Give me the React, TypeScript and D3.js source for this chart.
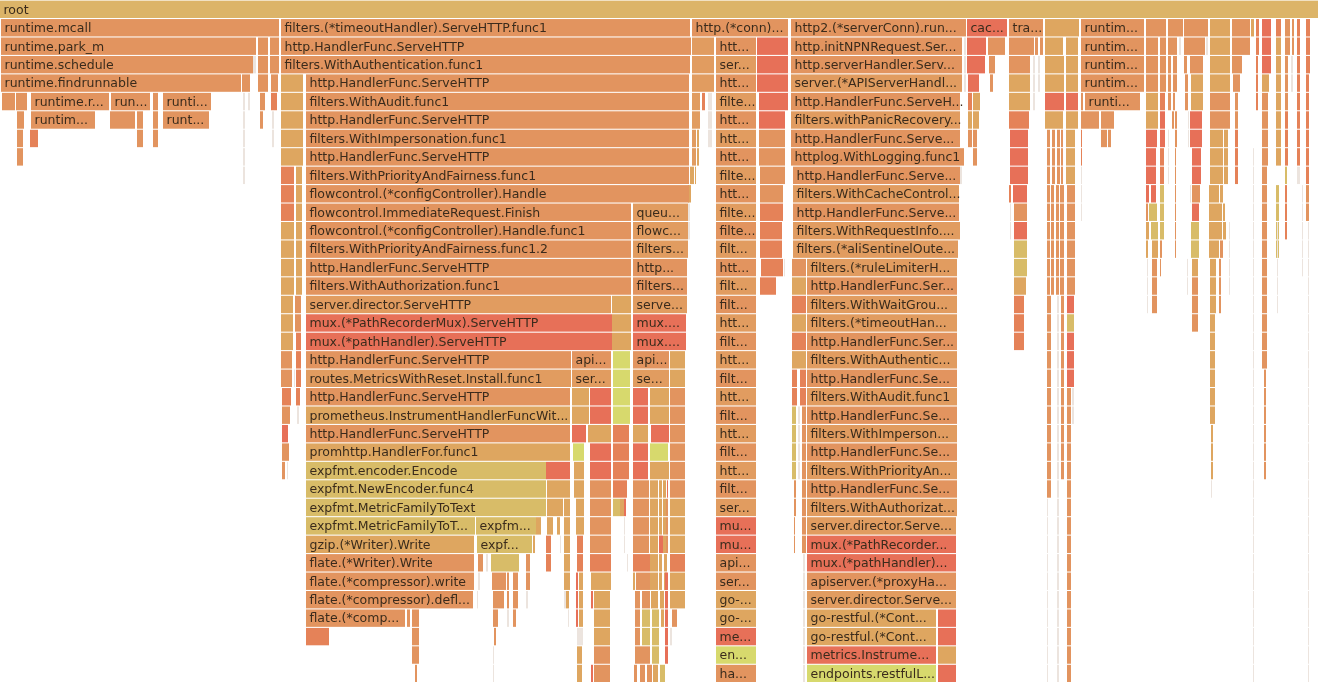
import React from "react";
import * as d3 from "d3";

type Label = [number, number, number, string, string];
type Run = [number, number, number, number, string];

const palette: Record<string, string> = {
  R: "#dcb467", o: "#e2945f", m: "#e19c60", t: "#dea661", s: "#e58259", r: "#e77059",
  y: "#d8bc68", g: "#d7d96d", p: "#ece4de",
};
const rowCount = 37;
const sampleTotal = 1318;

const labelledLeft: Label[] = [
  [0, 0, 1318, "R", "root"],
  [1, 1, 279, "o", "runtime.mcall"],
  [2, 1, 256, "o", "runtime.park_m"],
  [3, 1, 253, "o", "runtime.schedule"],
  [4, 1, 241, "o", "runtime.findrunnable"],
  [5, 31, 109, "o", "runtime.r..."],
  [5, 111, 150, "o", "run..."],
  [5, 163, 211, "o", "runti..."],
  [6, 31, 95, "o", "runtim..."],
  [6, 163, 209, "o", "runt..."],
];
const labelledTimeout: Label[] = [
  [1, 281, 690, "o", "filters.(*timeoutHandler).ServeHTTP.func1"],
  [2, 281, 691, "o", "http.HandlerFunc.ServeHTTP"],
  [3, 281, 690, "o", "filters.WithAuthentication.func1"],
  [4, 306, 689, "o", "http.HandlerFunc.ServeHTTP"],
  [5, 306, 689, "o", "filters.WithAudit.func1"],
  [6, 306, 689, "o", "http.HandlerFunc.ServeHTTP"],
  [7, 306, 689, "o", "filters.WithImpersonation.func1"],
  [8, 306, 689, "o", "http.HandlerFunc.ServeHTTP"],
  [9, 306, 689, "o", "filters.WithPriorityAndFairness.func1"],
  [10, 306, 689, "o", "flowcontrol.(*configController).Handle"],
  [11, 306, 631, "o", "flowcontrol.ImmediateRequest.Finish"],
  [11, 633, 688, "m", "queu..."],
  [12, 306, 631, "o", "flowcontrol.(*configController).Handle.func1"],
  [12, 633, 688, "m", "flowc..."],
  [13, 306, 631, "o", "filters.WithPriorityAndFairness.func1.2"],
  [13, 633, 688, "m", "filters..."],
  [14, 306, 631, "o", "http.HandlerFunc.ServeHTTP"],
  [14, 633, 687, "o", "http..."],
  [15, 306, 631, "o", "filters.WithAuthorization.func1"],
  [15, 633, 687, "o", "filters..."],
  [16, 306, 611, "m", "server.director.ServeHTTP"],
  [16, 633, 687, "m", "serve..."],
  [17, 306, 612, "r", "mux.(*PathRecorderMux).ServeHTTP"],
  [17, 633, 686, "r", "mux...."],
  [18, 306, 612, "r", "mux.(*pathHandler).ServeHTTP"],
  [18, 633, 686, "r", "mux...."],
  [19, 306, 571, "o", "http.HandlerFunc.ServeHTTP"],
  [19, 572, 611, "o", "api..."],
  [19, 633, 669, "o", "api..."],
  [20, 306, 571, "m", "routes.MetricsWithReset.Install.func1"],
  [20, 572, 611, "m", "ser..."],
  [20, 633, 669, "m", "se..."],
  [21, 306, 570, "o", "http.HandlerFunc.ServeHTTP"],
  [22, 306, 570, "t", "prometheus.InstrumentHandlerFuncWit..."],
  [23, 306, 570, "o", "http.HandlerFunc.ServeHTTP"],
  [24, 306, 570, "t", "promhttp.HandlerFor.func1"],
  [25, 306, 546, "y", "expfmt.encoder.Encode"],
  [26, 306, 546, "y", "expfmt.NewEncoder.func4"],
  [27, 306, 546, "y", "expfmt.MetricFamilyToText"],
  [28, 306, 475, "y", "expfmt.MetricFamilyToT..."],
  [28, 476, 536, "y", "expfm..."],
  [29, 306, 474, "t", "gzip.(*Writer).Write"],
  [29, 477, 532, "y", "expf..."],
  [30, 306, 474, "o", "flate.(*Writer).Write"],
  [31, 306, 474, "o", "flate.(*compressor).write"],
  [32, 306, 473, "o", "flate.(*compressor).defl..."],
  [33, 306, 405, "o", "flate.(*comp..."],
];
const conn1Names = ["htt...", "ser...", "htt...", "filte...", "htt...", "htt...", "htt...", "filte...", "htt...", "filte...", "filte...", "filt...", "htt...", "filt...", "filt...", "htt...", "filt...", "htt...", "filt...", "htt...", "filt...", "htt...", "filt...", "htt...", "filt...", "ser...", "mu...", "mu...", "api...", "ser...", "go-...", "go-...", "me...", "en...", "ha..."];
const conn1Colours = "omomomomomomomomomomomomom" + "rroottrgo";
const labelledConn: Label[] = [
  [1, 692, 788, "o", "http.(*conn)..."],
  [1, 791, 966, "o", "http2.(*serverConn).run..."],
  [2, 791, 962, "o", "http.initNPNRequest.Ser..."],
  [3, 791, 962, "o", "http.serverHandler.Serv..."],
  [4, 791, 962, "m", "server.(*APIServerHandl..."],
  [5, 791, 960, "o", "http.HandlerFunc.ServeH..."],
  [6, 791, 960, "m", "filters.withPanicRecovery..."],
  [7, 791, 960, "o", "http.HandlerFunc.Serve..."],
  [8, 791, 960, "o", "httplog.WithLogging.func1"],
  [9, 793, 960, "o", "http.HandlerFunc.Serve..."],
  [10, 793, 959, "m", "filters.WithCacheControl..."],
  [11, 793, 959, "o", "http.HandlerFunc.Serve..."],
  [12, 793, 960, "m", "filters.WithRequestInfo...."],
  [13, 793, 958, "m", "filters.(*aliSentinelOute..."],
  [14, 807, 957, "m", "filters.(*ruleLimiterH..."],
  [15, 807, 957, "o", "http.HandlerFunc.Ser..."],
  [16, 807, 957, "m", "filters.WithWaitGrou..."],
  [17, 807, 957, "m", "filters.(*timeoutHan..."],
  [18, 807, 957, "o", "http.HandlerFunc.Ser..."],
  [19, 807, 957, "m", "filters.WithAuthentic..."],
  [20, 807, 957, "o", "http.HandlerFunc.Se..."],
  [21, 807, 957, "m", "filters.WithAudit.func1"],
  [22, 807, 957, "o", "http.HandlerFunc.Se..."],
  [23, 807, 957, "m", "filters.WithImperson..."],
  [24, 807, 957, "o", "http.HandlerFunc.Se..."],
  [25, 807, 957, "m", "filters.WithPriorityAn..."],
  [26, 807, 957, "o", "http.HandlerFunc.Se..."],
  [27, 807, 957, "m", "filters.WithAuthorizat..."],
  [28, 807, 956, "m", "server.director.Serve..."],
  [29, 807, 956, "r", "mux.(*PathRecorder..."],
  [30, 807, 956, "r", "mux.(*pathHandler)..."],
  [31, 807, 956, "o", "apiserver.(*proxyHa..."],
  [32, 807, 956, "m", "server.director.Serve..."],
  [33, 807, 936, "t", "go-restful.(*Cont..."],
  [34, 807, 936, "t", "go-restful.(*Cont..."],
  [35, 807, 936, "r", "metrics.Instrume..."],
  [36, 807, 936, "g", "endpoints.restfulL..."],
];
const labelledRight: Label[] = [
  [1, 967, 1007, "r", "cac..."],
  [1, 1009, 1043, "o", "tra..."],
  [1, 1081, 1144, "o", "runtim..."],
  [2, 1081, 1144, "o", "runtim..."],
  [3, 1081, 1144, "o", "runtim..."],
  [4, 1081, 1144, "o", "runtim..."],
  [5, 1085, 1140, "o", "runti..."],
];

const runsLeft: Run[] = [
  [2, 4, 258, 268, "o"], [2, 3, 270, 279, "o"], [4, 4, 271, 278, "o"], [3, 3, 253, 256, "p"],
  [4, 4, 242, 250, "o"], [5, 5, 2, 15, "o"], [5, 5, 16, 27, "o"], [5, 7, 153, 158, "o"],
  [5, 9, 243, 245, "p"], [5, 5, 248, 250, "p"], [5, 5, 260, 265, "o"], [5, 5, 271, 277, "s"],
  [6, 6, 17, 24, "o"], [7, 8, 17, 23, "o"], [6, 6, 110, 135, "o"], [6, 7, 137, 143, "o"],
  [6, 6, 260, 263, "o"], [6, 7, 272, 274, "p"], [7, 7, 30, 38, "s"],
];
const runsTimeoutEdge: Run[] = [
  [4, 8, 281, 303, "t"], [9, 11, 281, 294, "s"], [9, 15, 296, 302, "t"], [12, 15, 281, 294, "t"],
  [16, 18, 281, 293, "t"], [16, 17, 295, 301, "o"], [18, 20, 296, 301, "s"], [19, 20, 281, 292, "o"],
  [20, 20, 294, 295, "p"], [21, 21, 282, 291, "s"], [21, 21, 296, 300, "s"], [22, 22, 282, 290, "o"],
  [22, 22, 297, 299, "p"], [23, 23, 282, 288, "r"], [24, 24, 282, 289, "o"], [25, 25, 282, 285, "o"],
  [25, 25, 287, 288, "p"],
];
const runsMetrics: Run[] = [
  [16, 18, 612, 631, "t"], [19, 22, 613, 630, "g"], [19, 20, 670, 685, "t"],
  [21, 22, 572, 589, "t"], [21, 22, 590, 611, "r"], [21, 22, 633, 648, "r"], [21, 22, 650, 669, "t"], [21, 26, 670, 685, "o"],
  [23, 23, 572, 586, "r"], [23, 23, 588, 611, "t"], [23, 25, 613, 629, "s"], [23, 23, 633, 648, "t"], [23, 23, 651, 669, "r"],
  [24, 24, 573, 584, "g"], [24, 25, 590, 611, "r"], [24, 25, 633, 648, "r"], [24, 24, 650, 668, "g"],
  [25, 25, 546, 570, "r"], [25, 26, 574, 584, "t"], [25, 25, 650, 669, "t"],
  [26, 26, 547, 570, "t"], [26, 29, 590, 611, "o"], [26, 26, 613, 627, "s"], [26, 29, 633, 649, "o"],
  [26, 31, 650, 658, "t"], [26, 31, 659, 662, "t"], [26, 26, 663, 666, "t"], [26, 26, 667, 668, "r"],
  [27, 27, 547, 563, "t"], [27, 27, 564, 570, "t"], [27, 28, 576, 584, "t"], [27, 27, 613, 620, "y"], [27, 27, 620, 624, "t"], [27, 27, 624, 626, "r"],
  [27, 29, 663, 666, "t"], [27, 29, 666, 668, "o"], [27, 32, 670, 685, "t"],
  [28, 28, 536, 541, "t"], [28, 28, 547, 553, "t"], [28, 28, 557, 560, "t"], [28, 31, 564, 570, "t"], [28, 29, 624, 625, "p"],
  [29, 29, 533, 535, "t"], [29, 30, 546, 551, "s"], [29, 29, 560, 561, "p"], [29, 30, 577, 583, "s"], [29, 29, 659, 663, "r"],
  [30, 30, 478, 483, "o"], [30, 30, 486, 488, "p"], [30, 30, 491, 519, "y"], [30, 31, 526, 530, "o"], [30, 30, 590, 611, "s"],
  [30, 30, 627, 628, "p"], [30, 30, 633, 650, "s"], [30, 31, 664, 667, "t"], [30, 30, 670, 685, "s"],
  [31, 31, 478, 480, "p"], [31, 31, 492, 506, "o"], [31, 32, 507, 509, "o"], [31, 32, 513, 518, "o"],
  [31, 33, 576, 578, "r"], [31, 33, 579, 583, "t"], [31, 31, 591, 608, "t"], [31, 31, 608, 611, "t"], [31, 31, 633, 635, "t"], [31, 31, 636, 650, "o"],
  [31, 35, 665, 668, "r"],
  [32, 32, 477, 478, "p"], [32, 32, 493, 504, "o"], [32, 32, 526, 528, "p"], [32, 32, 564, 566, "p"], [32, 32, 566, 569, "t"],
  [32, 32, 591, 593, "r"], [32, 33, 594, 610, "t"], [32, 35, 635, 640, "o"], [32, 32, 642, 650, "o"], [32, 32, 651, 658, "t"], [32, 32, 660, 664, "t"],
  [33, 33, 407, 410, "o"], [33, 35, 412, 419, "o"], [33, 33, 493, 498, "o"], [33, 33, 507, 509, "p"], [33, 33, 513, 516, "o"],
  [33, 33, 568, 569, "p"], [33, 34, 642, 650, "y"], [33, 35, 652, 659, "y"], [33, 33, 661, 664, "t"], [33, 33, 672, 677, "o"],
  [34, 34, 306, 329, "s"], [34, 34, 494, 496, "o"], [34, 34, 577, 583, "p"], [34, 34, 594, 610, "t"], [34, 34, 670, 672, "p"],
  [35, 36, 493, 494, "p"], [35, 36, 577, 582, "t"], [35, 36, 594, 610, "o"], [35, 35, 640, 650, "o"],
  [36, 36, 415, 417, "o"], [36, 36, 591, 593, "r"], [36, 36, 634, 637, "o"], [36, 36, 640, 645, "o"], [36, 36, 647, 652, "o"], [36, 36, 653, 658, "t"], [36, 36, 660, 665, "y"],
];
const runsConn: Run[] = [
  [2, 4, 692, 714, "m"], [2, 4, 757, 788, "r"], [5, 5, 759, 788, "r"], [6, 6, 759, 785, "r"], [7, 8, 759, 785, "o"],
  [5, 6, 692, 700, "m"], [5, 5, 702, 705, "s"], [5, 7, 708, 712, "p"], [7, 8, 692, 696, "m"], [7, 8, 697, 699, "t"],
  [9, 9, 690, 694, "t"], [9, 9, 695, 696, "t"], [10, 10, 688, 691, "t"], [11, 12, 688, 690, "p"],
  [2, 4, 964, 966, "p"], [9, 9, 760, 785, "o"], [10, 10, 760, 783, "o"], [11, 11, 760, 783, "s"], [12, 12, 760, 782, "s"], [13, 13, 760, 782, "s"],
  [14, 14, 761, 783, "s"], [14, 14, 784, 785, "p"], [15, 15, 760, 776, "s"],
  [14, 14, 792, 806, "o"], [15, 15, 792, 806, "t"], [16, 16, 792, 806, "s"], [17, 17, 792, 806, "t"], [18, 18, 792, 806, "s"], [19, 19, 792, 806, "t"],
  [20, 21, 792, 797, "s"], [20, 21, 800, 806, "s"], [22, 25, 792, 796, "y"], [22, 25, 798, 800, "p"], [22, 27, 802, 806, "o"],
  [26, 27, 794, 796, "o"], [28, 29, 794, 795, "o"], [28, 29, 802, 806, "o"], [30, 36, 803, 805, "p"],
  [33, 34, 938, 956, "r"], [35, 35, 938, 956, "t"], [36, 36, 938, 956, "r"],
];
const runsCacheAndTrace: Run[] = [
  [2, 2, 967, 986, "r"], [2, 2, 988, 1005, "o"], [3, 3, 967, 985, "r"], [3, 3, 989, 995, "o"], [4, 4, 968, 979, "r"], [4, 4, 990, 993, "o"],
  [5, 5, 968, 972, "s"], [5, 5, 973, 980, "t"], [6, 6, 968, 972, "t"], [6, 6, 973, 979, "t"], [7, 7, 968, 972, "o"], [7, 8, 973, 977, "o"],
  [8, 8, 960, 964, "o"], [9, 9, 960, 962, "p"],
  [2, 2, 1009, 1034, "o"], [2, 2, 1035, 1038, "o"], [2, 2, 1040, 1043, "o"], [3, 3, 1009, 1030, "o"], [3, 5, 1033, 1035, "p"], [3, 4, 1038, 1040, "p"],
  [4, 5, 1009, 1030, "t"], [6, 6, 1009, 1029, "s"], [7, 9, 1010, 1028, "r"], [10, 10, 1009, 1011, "s"], [10, 10, 1013, 1027, "r"],
  [11, 12, 1010, 1011, "p"], [11, 11, 1014, 1027, "o"], [12, 12, 1014, 1027, "r"], [13, 14, 1014, 1027, "y"], [15, 15, 1014, 1026, "t"], [16, 18, 1014, 1024, "s"],
  [1, 1, 1045, 1079, "t"], [2, 2, 1045, 1063, "t"], [2, 4, 1066, 1078, "t"], [3, 4, 1045, 1064, "t"], [5, 5, 1045, 1064, "r"], [5, 5, 1066, 1078, "r"],
  [6, 6, 1045, 1063, "t"], [6, 6, 1066, 1078, "t"],
  [7, 9, 1047, 1050, "o"], [7, 9, 1052, 1055, "o"], [7, 9, 1057, 1060, "o"], [7, 9, 1061, 1063, "o"],
  [10, 15, 1047, 1050, "o"], [10, 15, 1051, 1054, "o"], [10, 15, 1056, 1059, "o"], [10, 15, 1060, 1064, "o"],
  [7, 9, 1066, 1075, "t"], [10, 15, 1067, 1075, "o"], [16, 16, 1067, 1074, "r"], [17, 17, 1067, 1074, "y"], [18, 20, 1067, 1074, "r"],
  [21, 36, 1067, 1071, "o"], [21, 22, 1072, 1074, "p"],
  [16, 26, 1047, 1051, "o"], [27, 36, 1047, 1048, "p"], [16, 25, 1061, 1064, "o"], [16, 36, 1057, 1059, "p"],
  [5, 6, 1081, 1083, "o"], [7, 8, 1081, 1082, "s"], [9, 11, 1081, 1082, "p"], [6, 6, 1083, 1099, "o"], [6, 6, 1101, 1114, "o"], [7, 7, 1101, 1107, "o"], [7, 7, 1108, 1111, "o"],
];
const runsFarRight: Run[] = [
  [1, 1, 1146, 1166, "o"], [1, 1, 1168, 1183, "o"], [1, 1, 1184, 1208, "o"], [1, 1, 1210, 1230, "t"], [1, 1, 1232, 1250, "o"], [1, 1, 1251, 1254, "t"],
  [1, 2, 1256, 1259, "s"], [1, 3, 1262, 1271, "r"], [1, 1, 1276, 1281, "s"], [1, 2, 1285, 1290, "o"], [1, 2, 1292, 1294, "o"], [1, 4, 1297, 1300, "s"], [1, 3, 1306, 1310, "s"],
  [2, 4, 1146, 1158, "o"], [2, 4, 1160, 1166, "o"], [2, 2, 1168, 1177, "o"], [2, 2, 1179, 1181, "p"], [2, 2, 1184, 1205, "o"], [2, 2, 1206, 1208, "p"],
  [2, 4, 1210, 1230, "t"], [2, 2, 1232, 1250, "o"], [2, 8, 1276, 1281, "t"], [3, 5, 1168, 1171, "o"], [3, 4, 1173, 1177, "o"], [3, 3, 1184, 1187, "o"],
  [3, 3, 1190, 1203, "o"], [3, 3, 1232, 1242, "o"], [3, 5, 1256, 1258, "s"], [3, 5, 1285, 1288, "o"], [3, 4, 1291, 1293, "p"],
  [4, 5, 1185, 1188, "o"], [4, 5, 1191, 1203, "t"], [4, 4, 1233, 1240, "o"], [4, 4, 1262, 1269, "t"], [4, 9, 1306, 1309, "s"],
  [5, 6, 1146, 1158, "t"], [5, 5, 1160, 1165, "s"], [5, 5, 1173, 1175, "o"], [5, 6, 1210, 1230, "o"], [5, 6, 1235, 1238, "o"], [5, 8, 1262, 1268, "o"], [5, 8, 1297, 1300, "s"],
  [6, 7, 1160, 1165, "r"], [6, 6, 1172, 1174, "o"], [6, 7, 1175, 1177, "o"], [6, 7, 1188, 1189, "p"], [6, 7, 1190, 1202, "r"], [6, 8, 1285, 1288, "s"],
  [7, 7, 1146, 1157, "r"], [7, 9, 1168, 1169, "p"], [7, 9, 1210, 1223, "t"], [7, 9, 1224, 1228, "t"], [7, 9, 1235, 1238, "s"],
  [8, 9, 1146, 1156, "r"], [8, 9, 1160, 1164, "s"], [8, 13, 1175, 1176, "o"], [8, 9, 1192, 1201, "r"], [8, 36, 1253, 1254, "p"],
  [9, 9, 1297, 1300, "p"], [9, 9, 1285, 1287, "y"], [9, 12, 1262, 1267, "o"],
  [10, 10, 1146, 1149, "r"], [10, 10, 1151, 1156, "r"], [10, 12, 1160, 1164, "y"], [10, 10, 1190, 1191, "p"], [10, 10, 1192, 1200, "o"],
  [10, 10, 1209, 1219, "t"], [10, 10, 1220, 1223, "t"], [10, 13, 1276, 1279, "y"], [10, 12, 1285, 1287, "s"], [10, 12, 1302, 1303, "p"], [10, 11, 1306, 1309, "o"],
  [11, 11, 1146, 1148, "o"], [11, 11, 1149, 1157, "y"], [11, 11, 1192, 1199, "r"], [11, 11, 1209, 1222, "t"], [11, 11, 1223, 1225, "t"],
  [12, 12, 1146, 1149, "t"], [12, 12, 1151, 1158, "y"], [12, 13, 1191, 1199, "y"], [12, 12, 1209, 1222, "t"], [12, 12, 1223, 1226, "t"],
  [13, 13, 1146, 1148, "t"], [13, 13, 1152, 1158, "t"], [13, 13, 1160, 1162, "o"], [13, 13, 1209, 1219, "t"], [13, 13, 1220, 1223, "o"],
  [13, 14, 1302, 1303, "p"], [12, 15, 1229, 1230, "p"], [13, 13, 1262, 1267, "o"],
  [14, 14, 1147, 1148, "p"], [14, 14, 1152, 1157, "o"], [14, 14, 1160, 1161, "o"], [14, 14, 1192, 1198, "t"], [14, 16, 1210, 1216, "t"], [14, 16, 1219, 1221, "o"],
  [15, 16, 1147, 1148, "p"], [15, 16, 1152, 1157, "o"], [15, 17, 1192, 1198, "o"], [14, 15, 1187, 1188, "p"],
  [17, 22, 1210, 1215, "t"], [23, 25, 1211, 1213, "t"], [26, 26, 1211, 1212, "p"],
  [14, 19, 1262, 1267, "o"], [20, 25, 1264, 1266, "o"], [12, 16, 1277, 1278, "p"], [12, 36, 1308, 1309, "p"],
];

const conn1Column: Label[] = conn1Names.map(
  (name, i): Label => [i + 2, 716, 756, conn1Colours[i] ?? "o", name]
);

const labelled: Label[] = [...labelledLeft, ...labelledTimeout, ...labelledConn, ...conn1Column, ...labelledRight];
const runs: Run[] = [...runsLeft, ...runsTimeoutEdge, ...runsMetrics, ...runsConn, ...runsCacheAndTrace, ...runsFarRight];
const expandedRuns: Label[] = runs.flatMap(([from, to, x0, x1, c]) =>
  d3.range(from, to + 1).map((d): Label => [d, x0, x1, c, ""])
);

const width = 1318;
const height = 682;

export default function App() {
  const x = d3.scaleLinear().domain([0, sampleTotal]).range([0, width]);
  const y = d3.scaleLinear().domain([0, rowCount]).range([0.6, 0.6 + 18.45 * rowCount]);
  const frames = [...expandedRuns, ...labelled];
  return (
    <svg width={width} height={height} viewBox={`0 0 ${width} ${height}`}
      style={{ position: "absolute", left: 0, top: 0, display: "block", background: "#fff" }}>
      <defs>
        <filter id="soft" filterUnits="userSpaceOnUse" x="0" y="0" width={width} height={height}>
          <feGaussianBlur stdDeviation="0.6" />
        </filter>
      </defs>
      <g filter="url(#soft)" fontFamily="'DejaVu Sans', sans-serif" fontSize={12.5}>
        {frames.map(([d, x0, x1, c, label], i) => (
          <g key={i}>
            <rect x={x(x0)} y={y(d)} width={x(x1) - x(x0)} height={17.4} fill={palette[c]} />
            {label && (
              <text x={x(x0) + 3.5} y={y(d) + 13} fill="#3a2c1c">{label}</text>
            )}
          </g>
        ))}
      </g>
    </svg>
  );
}
